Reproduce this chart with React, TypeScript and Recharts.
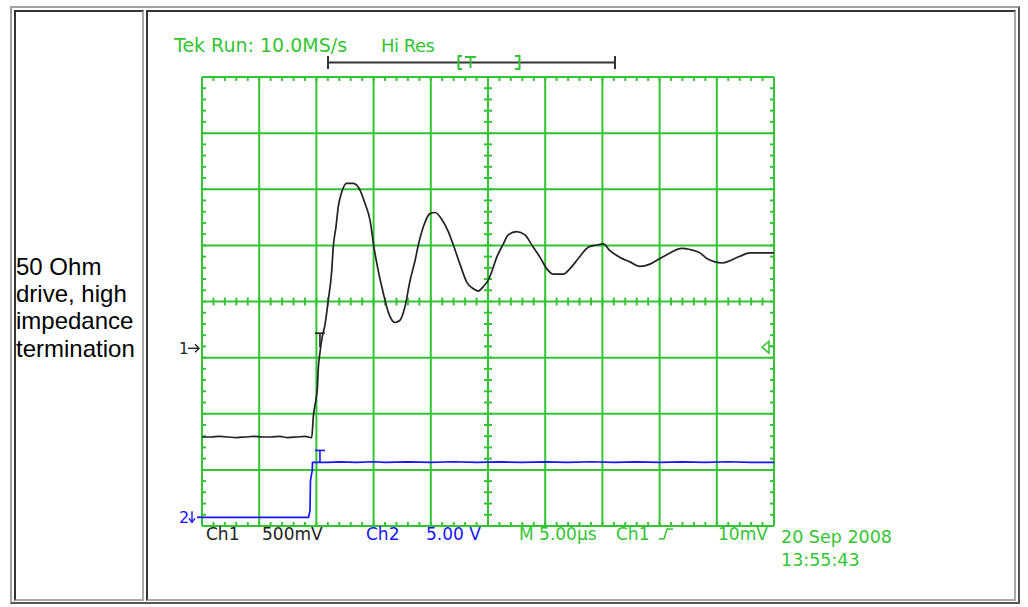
import {
  LineChart,
  Line,
  XAxis,
  YAxis,
  CartesianGrid,
  ReferenceLine,
  ReferenceDot,
} from "recharts";

// scope settings
const CH1_VOLTS_PER_DIV = 0.5;
const CH1_POSITION = -0.834; // divisions from screen centre
const CH2_VOLTS_PER_DIV = 5;
const CH2_POSITION = -3.845;
const TRIGGER_TIME = 10.31; // µs from left edge
const TRIGGER_LEVEL = 0.01; // V on Ch1

// graticule: 10 x 8 divisions, 5 µs/div
const timeTicks = [0, 5, 10, 15, 20, 25, 30, 35, 40, 45, 50];
const divTicks = [-4, -3, -2, -1, 0, 1, 2, 3, 4];

// Ch1 trace (µs, V)
const ch1Time = [
  0, 0.8, 1.5, 2.3, 3.0, 3.8, 4.5, 5.3, 6.0, 6.8, 7.5, 8.3, 9.0, 9.59,
  9.73, 9.97, 10.08, 10.17, 10.31, 10.49, 10.75, 11.04, 11.34, 11.48, 11.71,
  11.91, 12.21, 12.65, 13.23, 13.81, 14.25, 14.69, 15.03, 15.41, 15.85, 16.29,
  16.87, 17.31, 17.74, 18.18, 18.62, 18.91, 19.34, 19.93, 20.37, 20.95, 21.53,
  21.97, 22.55, 23.14, 23.72, 24.15, 24.59, 25.03, 25.32, 25.76, 26.34, 26.77,
  27.51, 28.23, 28.96, 29.55, 30.13, 30.71, 31.58, 32.17, 32.89, 33.77, 34.5,
  35.08, 35.66, 36.54, 37.41, 38.28, 39.16, 40.03, 40.91, 41.93, 42.66, 43.53,
  44.12, 44.84, 45.45, 46.15, 47.02, 47.9, 50,
];
const ch1Volts = [
  -0.79, -0.79, -0.785, -0.79, -0.795, -0.79, -0.785, -0.79, -0.79, -0.785,
  -0.795, -0.79, -0.785, -0.795,
  -0.61, -0.45, -0.36, -0.17, -0.04, 0.09, 0.21, 0.43, 0.69, 0.91, 1.08,
  1.26, 1.39, 1.47, 1.47, 1.41, 1.29, 1.14, 0.9, 0.69, 0.49, 0.32,
  0.23, 0.25, 0.37, 0.6, 0.78, 0.92, 1.08, 1.2, 1.21, 1.15, 1.04,
  0.92, 0.75, 0.59, 0.53, 0.51, 0.55, 0.61, 0.68, 0.81, 0.93, 1.01,
  1.04, 1.01, 0.9, 0.81, 0.71, 0.66, 0.66, 0.71, 0.8, 0.9, 0.92,
  0.93, 0.87, 0.81, 0.77, 0.73, 0.75, 0.8, 0.85, 0.89, 0.88, 0.85,
  0.8, 0.77, 0.76, 0.78, 0.82, 0.85, 0.85,
];

// Ch2 trace (µs, V)
const ch2Time = [
  0, 9.31, 9.44, 9.48, 9.64, 9.66, 11, 12, 13.5, 15, 16, 18, 20, 22, 24, 26,
  28, 30, 32, 34, 36, 38, 40, 42, 44, 46, 48, 50,
];
const ch2Volts = [
  0, 0, 0.62, 3.29, 4.18, 4.89, 4.89, 4.93, 4.89, 4.95, 4.89, 4.93, 4.89,
  4.95, 4.89, 4.93, 4.89, 4.93, 4.89, 4.95, 4.89, 4.93, 4.89, 4.93, 4.89,
  4.95, 4.89, 4.89,
];

const GREEN = "#33c433";
const SCOPE_FONT = "'DejaVu Sans', sans-serif";

const ch1Data = ch1Time.map((t, i) => ({
  t,
  y: ch1Volts[i] / CH1_VOLTS_PER_DIV + CH1_POSITION,
}));
const ch2Data = ch2Time.map((t, i) => ({
  t,
  y: ch2Volts[i] / CH2_VOLTS_PER_DIV + CH2_POSITION,
}));

// minor graticule marks, 5 per division
const minorTimes = Array.from({ length: 51 }, (_, i) => i);
const minorDivs = Array.from({ length: 41 }, (_, i) => -4 + i * 0.2);
const TICK_T = 0.35;
const TICK_D = 0.07;

const tickLines = [
  ...minorTimes.flatMap((t) => [
    [{ x: t, y: 4 }, { x: t, y: 4 - TICK_D }],
    [{ x: t, y: -4 }, { x: t, y: -4 + TICK_D }],
    [{ x: t, y: -TICK_D }, { x: t, y: TICK_D }],
  ]),
  ...minorDivs.flatMap((d) => [
    [{ x: 0, y: d }, { x: TICK_T, y: d }],
    [{ x: 50, y: d }, { x: 50 - TICK_T, y: d }],
    [{ x: 25 - TICK_T, y: d }, { x: 25 + TICK_T, y: d }],
  ]),
];

const Ch1Marker = (p: any) => (
  <g>
    <text x={p.cx - 23} y={p.cy + 6} fontSize={15} fontFamily={SCOPE_FONT} fill="#222">
      1
    </text>
    <path d={`M${p.cx - 14},${p.cy} H${p.cx - 3}`} stroke="#222" strokeWidth={1.4} />
    <path d={`M${p.cx - 7},${p.cy - 4} L${p.cx - 3},${p.cy} L${p.cx - 7},${p.cy + 4}`} fill="none" stroke="#222" strokeWidth={1.4} />
  </g>
);

const Ch2Marker = (p: any) => (
  <g>
    <text x={p.cx - 23} y={p.cy + 6} fontSize={16} fontFamily={SCOPE_FONT} fill="#1515ff">
      2
    </text>
    <path d={`M${p.cx - 10},${p.cy - 6} V${p.cy + 4}`} stroke="#1515ff" strokeWidth={1.4} />
    <path d={`M${p.cx - 13},${p.cy + 1} L${p.cx - 10},${p.cy + 5} L${p.cx - 7},${p.cy + 1}`} fill="none" stroke="#1515ff" strokeWidth={1.4} />
    <path d={`M${p.cx - 5},${p.cy} H${p.cx}`} stroke="#1515ff" strokeWidth={1.8} />
  </g>
);

const TriggerLevelMarker = (p: any) => (
  <g>
    <path
      d={`M${p.cx - 12},${p.cy} L${p.cx - 5},${p.cy - 6} L${p.cx - 5},${p.cy + 6} Z`}
      fill="none"
      stroke={GREEN}
      strokeWidth={1.5}
    />
    <path d={`M${p.cx - 5},${p.cy - 1} H${p.cx}`} stroke={GREEN} strokeWidth={1.5} />
  </g>
);

const tMarker = (color: string, height: number) => (p: any) =>
  (
    <g stroke={color} strokeWidth={1.6} fill="none">
      <path d={`M${p.cx - 5},${p.cy - height} H${p.cx + 5}`} />
      <path d={`M${p.cx},${p.cy - height} V${p.cy}`} />
    </g>
  );

const cellBorder = {
  position: "absolute" as const,
  boxSizing: "border-box" as const,
  borderStyle: "solid",
  borderWidth: 2,
  borderColor: "#333 #a8a8a8 #a8a8a8 #333",
};

export default function App() {
  return (
    <div
      style={{
        position: "absolute",
        left: 0,
        top: 0,
        width: 1028,
        height: 607,
        background: "#fff",
        overflow: "hidden",
      }}
    >
      <div
        style={{
          position: "absolute",
          left: 10,
          top: 6,
          width: 1010,
          height: 598,
          boxSizing: "border-box",
          borderStyle: "solid",
          borderWidth: 2,
          borderColor: "#a0a0a0 #555 #555 #a0a0a0",
        }}
      />
      <div style={{ ...cellBorder, left: 14, top: 10, width: 130, height: 591 }} />
      <div style={{ ...cellBorder, left: 146, top: 10, width: 870, height: 591 }} />

      <div
        style={{
          position: "absolute",
          left: 16,
          top: 253,
          fontFamily: "'Liberation Sans', Arial, sans-serif",
          fontSize: 24,
          lineHeight: "27.2px",
          color: "#000",
        }}
      >
        50 Ohm
        <br />
        drive, high
        <br />
        impedance
        <br />
        termination
      </div>

      <div style={{ position: "absolute", left: 0, top: 0 }}>
        <LineChart
          width={1028}
          height={607}
          margin={{ top: 77, right: 254, bottom: 81, left: 202 }}
        >
          <XAxis
            type="number"
            dataKey="t"
            domain={[0, 50]}
            ticks={timeTicks}
            hide
            allowDataOverflow
          />
          <YAxis
            type="number"
            domain={[-4, 4]}
            ticks={divTicks}
            hide
            allowDataOverflow
          />
          <CartesianGrid stroke={GREEN} strokeWidth={2} />
          {tickLines.map((seg, i) => (
            <ReferenceLine
              key={`tick-${i}`}
              segment={seg}
              stroke={GREEN}
              strokeWidth={2}
            />
          ))}
          <Line
            data={ch2Data}
            dataKey="y"
            type="linear"
            stroke="#1515ff"
            strokeWidth={1.7}
            dot={false}
            isAnimationActive={false}
          />
          <Line
            data={ch1Data}
            dataKey="y"
            type="monotone"
            stroke="#222"
            strokeWidth={1.7}
            dot={false}
            isAnimationActive={false}
          />
          <ReferenceDot x={0} y={CH1_POSITION} shape={Ch1Marker} />
          <ReferenceDot x={0} y={CH2_POSITION} shape={Ch2Marker} />
          <ReferenceDot
            x={50}
            y={TRIGGER_LEVEL / CH1_VOLTS_PER_DIV + CH1_POSITION}
            shape={TriggerLevelMarker}
          />
          <ReferenceDot
            x={TRIGGER_TIME}
            y={TRIGGER_LEVEL / CH1_VOLTS_PER_DIV + CH1_POSITION}
            shape={tMarker("#222", 14)}
          />
          <ReferenceDot
            x={TRIGGER_TIME}
            y={4.89 / CH2_VOLTS_PER_DIV + CH2_POSITION}
            shape={tMarker("#1515ff", 12)}
          />
        </LineChart>
      </div>

      <svg
        width={1028}
        height={607}
        style={{ position: "absolute", left: 0, top: 0, pointerEvents: "none" }}
        fontFamily={SCOPE_FONT}
      >
        <text x={174} y={51.5} fontSize={19} fill={GREEN}>
          Tek Run: 10.0MS/s
        </text>
        <text x={381} y={51.5} fontSize={18} fill={GREEN} letterSpacing={-0.5}>
          Hi Res
        </text>
        {/* record view bar */}
        <g stroke="#333" strokeWidth={2}>
          <path d="M328,62.5 H615" />
          <path d="M328,56 V69" />
          <path d="M615,56 V69" />
        </g>
        <g stroke={GREEN} strokeWidth={2} fill="none">
          <path d="M462,56 H458.5 V69 H462" />
          <path d="M465,57 H476 M470.5,57 V68" />
          <path d="M515,56 H519.5 V69 H515" />
        </g>

        <text x={206} y={540} fontSize={17} fill="#222">Ch1</text>
        <text x={262} y={540} fontSize={17} fill="#222">500mV</text>
        <text x={366} y={540} fontSize={17} fill="#1515ff">Ch2</text>
        <text x={426} y={540} fontSize={17} fill="#1515ff">5.00 V</text>
        <text x={519} y={540} fontSize={17} fill={GREEN}>M 5.00µs</text>
        <text x={616} y={540} fontSize={17} fill={GREEN}>Ch1</text>
        <path d="M659,539 H664 L667,529 H673" stroke={GREEN} strokeWidth={1.5} fill="none" />
        <text x={718} y={540} fontSize={17} fill={GREEN}>10mV</text>

        <text x={781} y={543} fontSize={17.5} fill={GREEN}>20 Sep 2008</text>
        <text x={781} y={566} fontSize={17.5} fill={GREEN}>13:55:43</text>
      </svg>
    </div>
  );
}
